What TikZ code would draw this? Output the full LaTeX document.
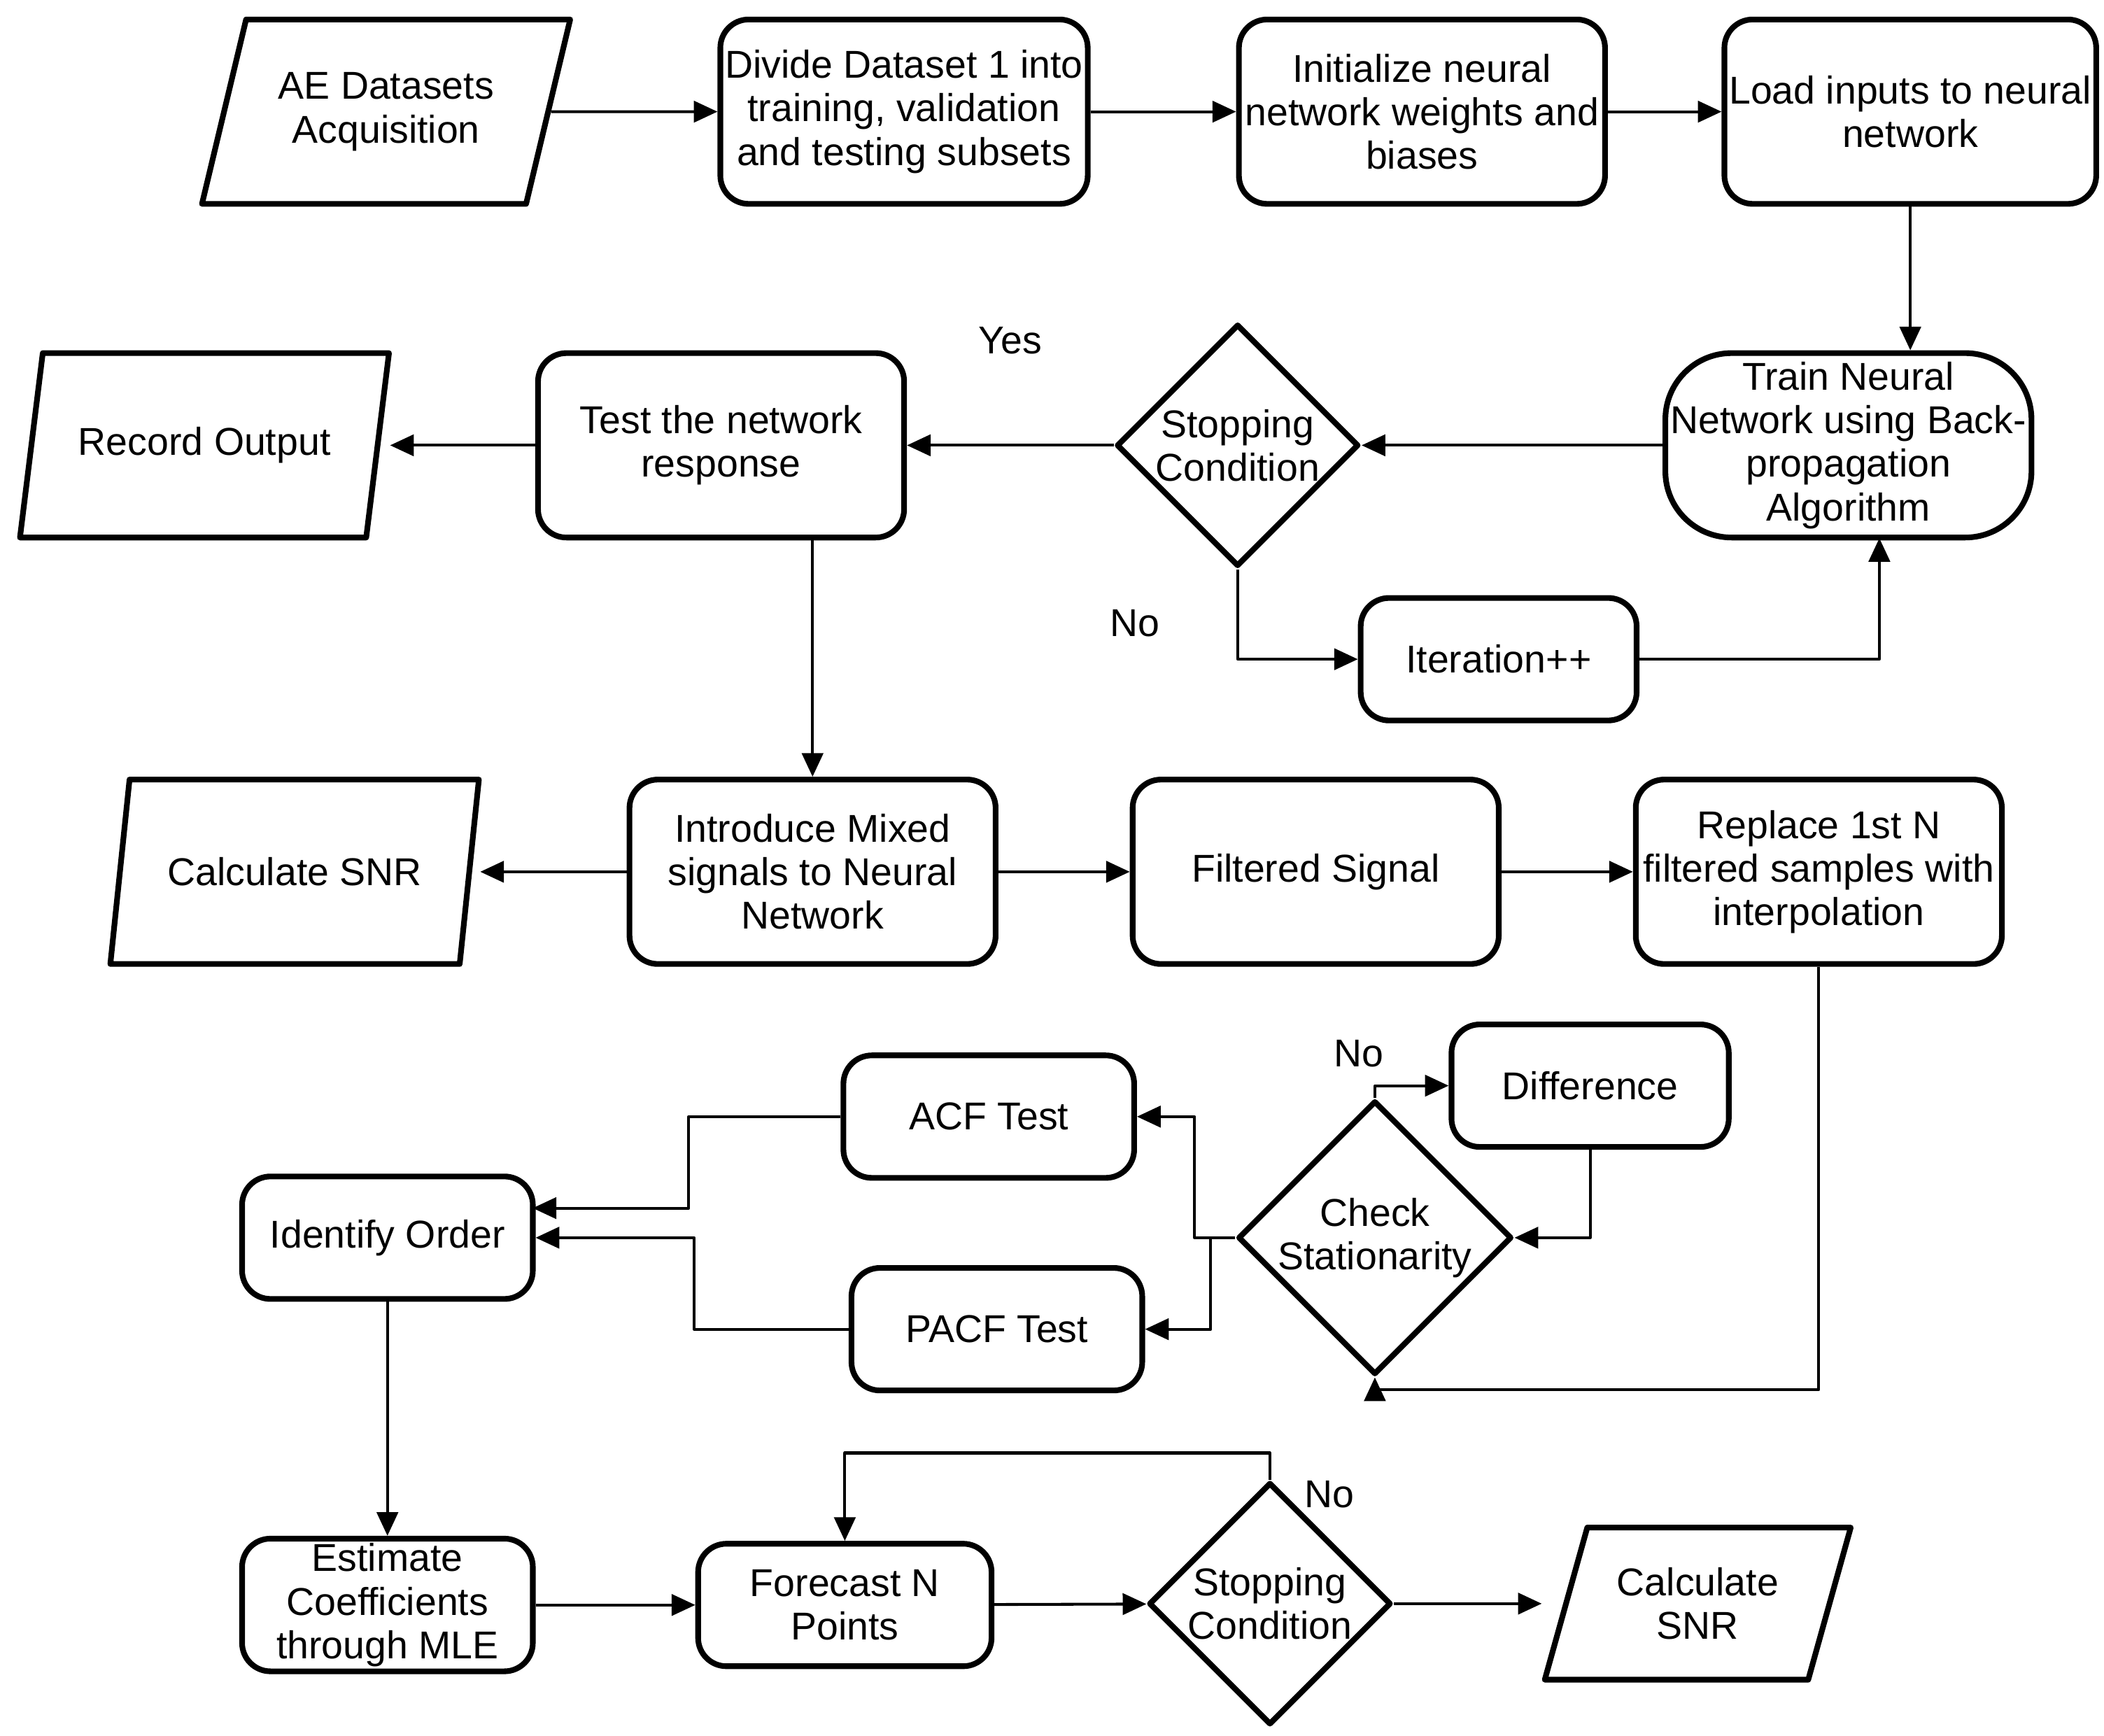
\documentclass[tikz,border=0pt]{standalone}
\usepackage{fontspec}
\setmainfont{Liberation Sans}
\usetikzlibrary{shapes.geometric,arrows.meta}
\begin{document}
\begin{tikzpicture}[x=0.01cm,y=-0.01cm,line join=round,>={Triangle[length=5pt,width=4.5pt]},
  font=\fontsize{8.2}{9.2}\selectfont]
  \tikzset{box/.style={draw,line width=1.2pt,rounded corners=6pt,align=center,minimum width=2.72cm,minimum height=1.37cm,inner sep=1pt},
    sbox/.style={box,minimum width=2.16cm,minimum height=0.91cm},
    io/.style={draw,line width=1.2pt,trapezium,trapezium left angle=68,trapezium right angle=-68,trapezium stretches=true,align=center,minimum width=2.75cm,minimum height=1.37cm,inner sep=1pt},
    dec/.style={draw,line width=1.2pt,diamond,aspect=1,minimum width=1.8cm,minimum height=1.8cm,align=center,inner sep=0pt},
    flow/.style={->,line width=0.6pt}}
  \useasboundingbox (0,0) rectangle (1564,1290);
  % top row
  \node[io] (ae) at (287,83) {AE Datasets\\Acquisition};
  \node[box] (divide) at (672,83) {Divide Dataset 1 into\\training, validation\\and testing subsets};
  \node[box] (init) at (1057,83) {Initialize neural\\network weights and\\biases};
  \node[box] (load) at (1420,83) {Load inputs to neural\\network};
  % training loop
  \node[box,rounded corners=14pt] (train) at (1374,331) {Train Neural\\Network using Back-\\propagation\\Algorithm};
  \node[dec] (stopa) at (920,331) {Stopping\\Condition};
  \node[box] (test) at (536,331) {Test the network\\response};
  \node[io] (record) at (152,331) {Record Output};
  \node[sbox,minimum width=2.05cm] (iter) at (1114,490) {Iteration++};
  % filtering
  \node[box] (intro) at (604,648) {Introduce Mixed\\signals to Neural\\Network};
  \node[io] (calca) at (219,648) {Calculate SNR};
  \node[box] (filt) at (978,648) {Filtered Signal};
  \node[box] (replace) at (1352,648) {Replace 1st N\\filtered samples with\\interpolation};
  % ARIMA
  \node[sbox,minimum width=2.06cm] (diff) at (1182,807) {Difference};
  \node[dec] (check) at (1022,920) {Check\\Stationarity};
  \node[sbox] (acf) at (735,830) {ACF Test};
  \node[sbox] (pacf) at (741,988) {PACF Test};
  \node[sbox] (ident) at (288,920) {Identify Order};
  \node[sbox] (est) at (288,1193) {Estimate\\Coefficients\\through MLE};
  \node[sbox,minimum width=2.18cm] (fore) at (628,1193) {Forecast N\\Points};
  \node[dec] (stopb) at (944,1192) {Stopping\\Condition};
  \node[io,minimum width=2.28cm,minimum height=1.13cm] (calcb) at (1262,1192) {Calculate\\SNR};
  \coordinate (recin) at (290,331);
  \coordinate (calcin) at (357,648);
  \coordinate (calcbin) at (1146,1192);
  % connectors
  \draw[flow] (ae) -- (divide);
  \draw[flow] (divide) -- (init);
  \draw[flow] (init) -- (load);
  \draw[flow] (load) -- (load |- train.north);
  \draw[flow] (train) -- (stopa);
  \draw[flow] (stopa) -- (test) node[pos=0.5,above=0.55cm] {Yes};
  \draw[flow] (test) -- (recin);
  \draw[flow] (stopa.south) |- (iter) node[pos=0.3,left=0.45cm] {No};
  \draw[flow] (iter) -| (1397,400);
  \draw[flow] (604,400) -- (intro);
  \draw[flow] (intro) -- (calcin);
  \draw[flow] (intro) -- (filt);
  \draw[flow] (filt) -- (replace);
  \draw[flow] (replace.south) -- (1352,1033) -| (check.south);
  \draw[flow] (check.north) |- (diff);
  \node at (1010,783) {No};
  \draw[flow] (diff.south) |- (check.east);
  \draw[flow] (check.west) -- (888,920) |- (acf);
  \draw[flow] (900,920) |- (pacf);
  \draw[flow] (acf) -| (512,898) -- (396,898);
  \draw[flow] (pacf) -| (516,920) -- (ident);
  \draw[flow] (ident) -- (est);
  \draw[flow] (est) -- (fore);
  \draw[flow] (fore) -- (stopb);
  \draw[flow] (stopb.north) -- (944,1080) -| (fore.north);
  \node at (988,1111) {No};
  \draw[flow] (stopb) -- (calcbin);
\end{tikzpicture}
\end{document}
